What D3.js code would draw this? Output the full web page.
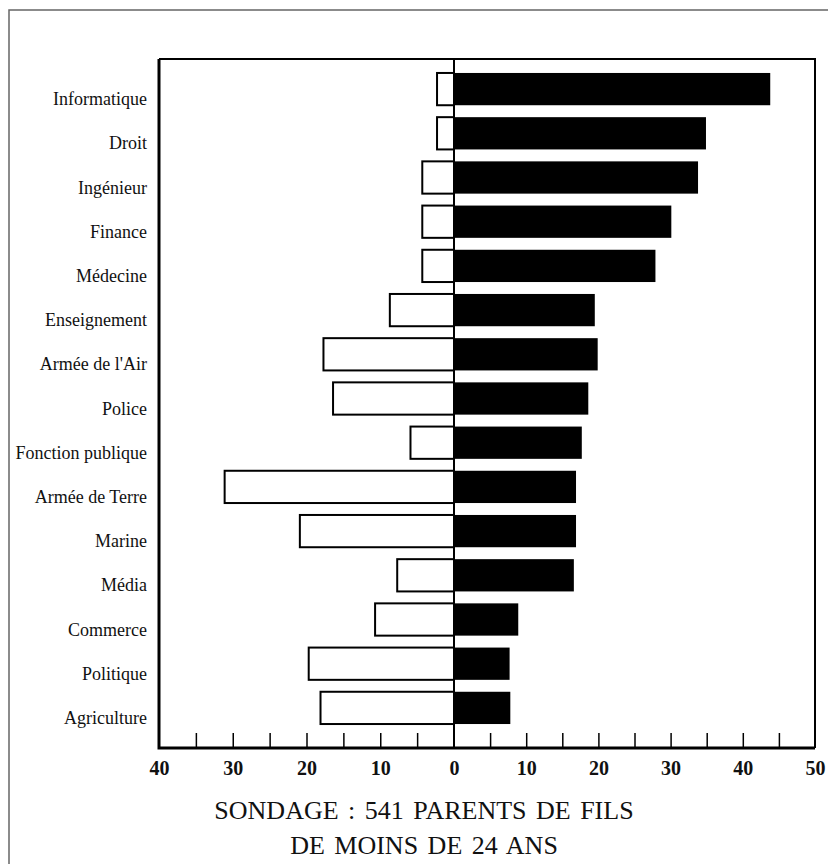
<!DOCTYPE html>
<html>
<head>
<meta charset="utf-8">
<script src="https://cdn.jsdelivr.net/npm/d3@7"></script>
<style>
  body { margin: 0; background: #fff; overflow: hidden; }
  svg { display: block; }
  .cat-label { font-family: "Liberation Serif", "Times New Roman", serif; font-size: 18px; fill: #111; }
  .tick-label { font-family: "Liberation Serif", "Times New Roman", serif; font-size: 20px; font-weight: bold; fill: #111; }
  .caption { font-family: "Liberation Serif", "Times New Roman", serif; font-size: 26px; fill: #111; }
</style>
</head>
<body>
<div id="chart"></div>
<script>
// Survey data (percent)
const categories = [
    'Informatique', 'Droit', 'Ingénieur', 'Finance', 'Médecine',
    'Enseignement', "Armée de l'Air", 'Police', 'Fonction publique',
    'Armée de Terre', 'Marine', 'Média', 'Commerce', 'Politique', 'Agriculture'
];
// open bars, drawn to the left of zero
const leftValues = [2.3, 2.3, 4.3, 4.3, 4.3, 8.7, 17.7, 16.4, 5.9, 31.1, 20.9, 7.7, 10.7, 19.7, 18.1];
// black bars, drawn to the right of zero
const rightValues = [43.8, 34.9, 33.8, 30.1, 27.9, 19.5, 19.9, 18.6, 17.7, 16.9, 16.9, 16.6, 8.9, 7.7, 7.8];
const labelTicks = [-40, -30, -20, -10, 0, 10, 20, 30, 40, 50];
const minorTicks = [-35, -30, -25, -20, -15, -10, -5, 5, 10, 15, 20, 25, 30, 35, 40, 45];
const captionLines = ['SONDAGE : 541 PARENTS DE FILS', 'DE MOINS DE 24 ANS'];

const width = 828;
const height = 864;
const plot = { left: 159, right: 815, top: 59, bottom: 748 };

const svg = d3.select('#chart')
    .append('svg')
    .attr('width', width)
    .attr('height', height);

// outer frame of the page (only top and left edges are in view)
svg.append('path')
    .attr('d', `M9,${height}V10H${width}`)
    .style('fill', 'none')
    .style('stroke', '#666')
    .style('stroke-width', 1.5);

// Scales
const xScale = d3.scaleLinear()
    .domain([-40, 0, 50])
    .range([plot.left, 454, plot.right]);

const yScale = d3.scaleBand()
    .domain(categories)
    .range([67, 730])
    .paddingInner(0.27)
    .paddingOuter(0.135);

// Bars
svg.selectAll('.bar-left')
    .data(categories)
    .enter()
    .append('rect')
    .attr('class', 'bar-left')
    .attr('x', (d, i) => xScale(-leftValues[i]))
    .attr('y', d => yScale(d))
    .attr('width', (d, i) => xScale(0) - xScale(-leftValues[i]))
    .attr('height', yScale.bandwidth())
    .style('fill', '#fff')
    .style('stroke', '#000')
    .style('stroke-width', 2);

svg.selectAll('.bar-right')
    .data(categories)
    .enter()
    .append('rect')
    .attr('class', 'bar-right')
    .attr('x', xScale(0))
    .attr('y', d => yScale(d))
    .attr('width', (d, i) => xScale(rightValues[i]) - xScale(0))
    .attr('height', yScale.bandwidth())
    .style('fill', '#000');

// Category labels: baseline sits at bottom of each bar
svg.selectAll('.cat-label')
    .data(categories)
    .enter()
    .append('text')
    .attr('class', 'cat-label')
    .attr('x', plot.left - 12)
    .attr('y', d => yScale(d) + yScale.bandwidth())
    .attr('text-anchor', 'end')
    .text(d => d);

// Zero line
svg.append('line')
    .attr('x1', xScale(0))
    .attr('x2', xScale(0))
    .attr('y1', plot.top)
    .attr('y2', plot.bottom)
    .style('stroke', '#000')
    .style('stroke-width', 2);

// Minor ticks pointing up inside the plot
const tickAxis = d3.axisBottom(xScale)
    .tickValues(minorTicks)
    .tickSizeInner(-15)
    .tickSizeOuter(0)
    .tickFormat('');

const tickG = svg.append('g')
    .attr('transform', `translate(0,${plot.bottom})`)
    .call(tickAxis);
tickG.select('.domain').remove();
tickG.selectAll('line')
    .style('stroke', '#000')
    .style('stroke-width', 1.5);

// Tick labels, shown as absolute values
const labelAxis = d3.axisBottom(xScale)
    .tickValues(labelTicks)
    .tickSize(0)
    .tickPadding(13)
    .tickFormat(d => Math.abs(d));

const labelG = svg.append('g')
    .attr('transform', `translate(0,${plot.bottom})`)
    .call(labelAxis);
labelG.select('.domain').remove();
labelG.selectAll('text')
    .attr('class', 'tick-label')
    .attr('font-family', null)
    .attr('font-size', null)
    .attr('fill', null);

// Plot border
svg.append('path')
    .attr('d', `M${plot.left},${plot.top}H${plot.right}V${plot.bottom}`)
    .style('fill', 'none')
    .style('stroke', '#000')
    .style('stroke-width', 2);
svg.append('path')
    .attr('d', `M${plot.left},${plot.top}V${plot.bottom}H${plot.right}`)
    .style('fill', 'none')
    .style('stroke', '#000')
    .style('stroke-width', 3);

// Caption
svg.selectAll('.caption')
    .data(captionLines)
    .enter()
    .append('text')
    .attr('class', 'caption')
    .attr('x', 424)
    .attr('y', (d, i) => 819 + i * 35)
    .attr('text-anchor', 'middle')
    .style('word-spacing', '3px')
    .text(d => d);
</script>
</body>
</html>
